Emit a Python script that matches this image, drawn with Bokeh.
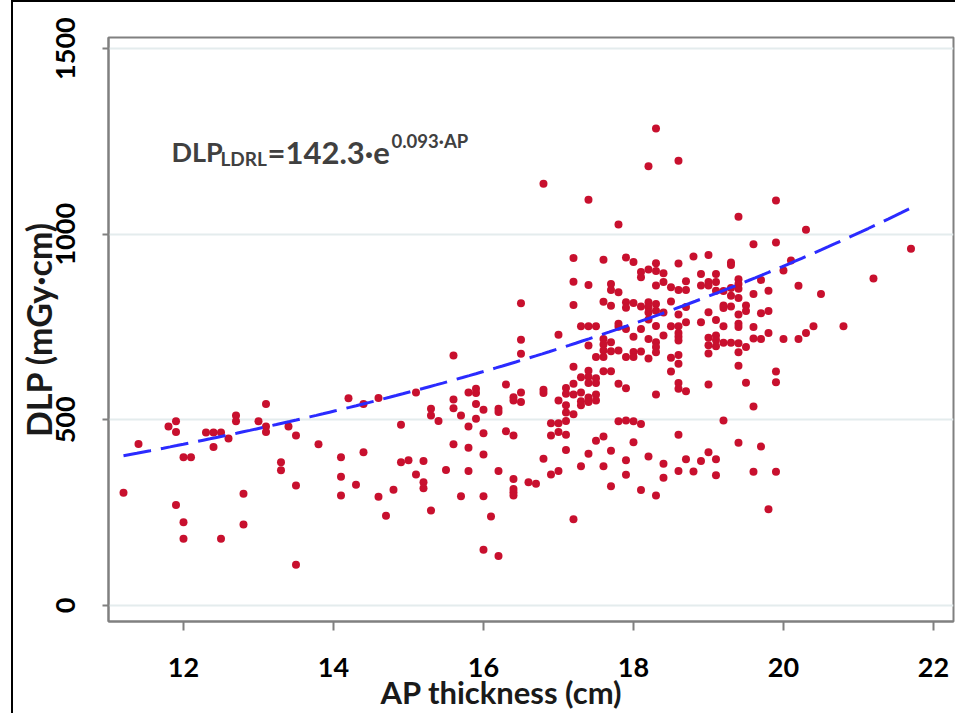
import numpy as np
from bokeh.plotting import figure
from bokeh.models import FixedTicker, Label, Range1d, Title
from bokeh.embed import file_html
from bokeh.resources import INLINE

# ---- data ----
ap_cm = [
    11.2,
    11.4,
    11.8,
    11.9, 11.9, 11.9,
    12.0, 12.0, 12.0,
    12.1,
    12.3,
    12.4, 12.4,
    12.5, 12.5,
    12.6,
    12.7, 12.7,
    12.8, 12.8,
    13.0,
    13.1, 13.1, 13.1,
    13.3, 13.3,
    13.4,
    13.5, 13.5, 13.5,
    13.8,
    14.1, 14.1, 14.1,
    14.2,
    14.3,
    14.4, 14.4,
    14.6, 14.6,
    14.7,
    14.8,
    14.9, 14.9,
    15.0,
    15.1, 15.1,
    15.2, 15.2, 15.2,
    15.3, 15.3, 15.3,
    15.4,
    15.5,
    15.6, 15.6, 15.6, 15.6,
    15.7, 15.7,
    15.8, 15.8, 15.8, 15.8,
    15.9, 15.9, 15.9, 15.9,
    16.0, 16.0, 16.0, 16.0, 16.0,
    16.1,
    16.2, 16.2, 16.2, 16.2,
    16.3, 16.3,
    16.4, 16.4, 16.4, 16.4, 16.4, 16.4, 16.4,
    16.5, 16.5, 16.5, 16.5, 16.5,
    16.6,
    16.7,
    16.8, 16.8, 16.8, 16.8,
    16.9, 16.9, 16.9,
    17.0, 17.0, 17.0, 17.0, 17.0,
    17.1, 17.1, 17.1, 17.1, 17.1, 17.1, 17.1,
    17.2, 17.2, 17.2, 17.2, 17.2, 17.2, 17.2, 17.2,
    17.3, 17.3, 17.3, 17.3, 17.3, 17.3,
    17.4, 17.4, 17.4, 17.4, 17.4, 17.4, 17.4, 17.4, 17.4, 17.4,
    17.5, 17.5, 17.5, 17.5, 17.5, 17.5, 17.5,
    17.6, 17.6, 17.6, 17.6, 17.6, 17.6, 17.6, 17.6, 17.6,
    17.7, 17.7, 17.7, 17.7, 17.7, 17.7, 17.7, 17.7,
    17.8, 17.8, 17.8, 17.8, 17.8, 17.8, 17.8,
    17.9, 17.9, 17.9, 17.9, 17.9, 17.9, 17.9, 17.9, 17.9,
    18.0, 18.0, 18.0, 18.0, 18.0, 18.0, 18.0,
    18.1, 18.1, 18.1, 18.1, 18.1, 18.1, 18.1,
    18.2, 18.2, 18.2, 18.2, 18.2, 18.2, 18.2, 18.2, 18.2,
    18.3, 18.3, 18.3, 18.3, 18.3, 18.3, 18.3, 18.3, 18.3, 18.3, 18.3, 18.3,
    18.4, 18.4, 18.4, 18.4, 18.4, 18.4,
    18.5, 18.5, 18.5, 18.5, 18.5,
    18.6, 18.6, 18.6, 18.6, 18.6, 18.6, 18.6, 18.6, 18.6, 18.6, 18.6, 18.6, 18.6, 18.6,
    18.7, 18.7, 18.7, 18.7, 18.7, 18.7,
    18.8, 18.8,
    18.9, 18.9, 18.9, 18.9,
    19.0, 19.0, 19.0, 19.0, 19.0, 19.0, 19.0, 19.0, 19.0,
    19.1, 19.1, 19.1, 19.1, 19.1, 19.1, 19.1, 19.1, 19.1,
    19.2, 19.2, 19.2, 19.2, 19.2, 19.2,
    19.3, 19.3, 19.3, 19.3, 19.3, 19.3,
    19.4, 19.4, 19.4, 19.4, 19.4, 19.4, 19.4, 19.4, 19.4, 19.4, 19.4, 19.4,
    19.5, 19.5, 19.5, 19.5,
    19.6, 19.6, 19.6, 19.6, 19.6, 19.6,
    19.7, 19.7, 19.7, 19.7,
    19.8, 19.8, 19.8, 19.8,
    19.9, 19.9, 19.9, 19.9, 19.9,
    20.0, 20.0,
    20.1,
    20.2, 20.2,
    20.3, 20.3,
    20.4,
    20.5,
    20.8,
    21.2,
    21.7,
]

dlp_mgycm = [
    304,
    435,
    482,
    496, 467, 271,
    399, 224, 180,
    399,
    466,
    466, 427,
    466, 180,
    450,
    512, 496,
    301, 218,
    496,
    543, 482, 467,
    386, 364,
    482,
    458, 323, 110,
    434,
    399, 347, 296,
    558,
    325,
    543, 413,
    559, 293,
    242,
    312,
    487, 386,
    391,
    574, 353,
    389, 332, 316,
    530, 512, 256,
    497,
    365,
    673, 555, 531, 434,
    512, 294,
    574, 482, 425, 362,
    584, 572, 543, 503,
    527, 464, 407, 294, 150,
    240,
    530, 521, 362, 133,
    595, 469,
    561, 552, 458, 341, 314, 305, 296,
    814, 716, 678, 574, 548,
    332,
    328,
    1136, 581, 572, 395,
    491, 458, 353,
    729, 552, 491, 467, 362,
    586, 570, 539, 520, 497, 460, 419,
    936, 872, 809, 643, 597, 568, 515, 232,
    752, 615, 574, 550, 539, 375,
    1093, 863, 752, 700, 632, 616, 599, 560, 548, 409,
    752, 669, 612, 599, 568, 552, 444,
    931, 818, 718, 703, 687, 669, 631, 455, 375,
    866, 850, 807, 709, 685, 631, 417, 321,
    1026, 844, 759, 751, 687, 597, 496,
    937, 817, 802, 745, 669, 585, 498, 391, 352,
    925, 815, 724, 683, 669, 496, 440,
    898, 884, 805, 745, 684, 489, 311,
    1183, 905, 817, 803, 789, 770, 718, 665, 401,
    1285, 922, 901, 862, 812, 794, 753, 709, 696, 682, 568, 296,
    895, 871, 789, 727, 382, 344,
    857, 819, 752, 667, 630,
    1198, 921, 850, 784, 752, 734, 724, 714, 675, 651, 599, 584, 460, 362,
    873, 850, 804, 763, 577, 394,
    940, 361,
    893, 862, 763, 389,
    944, 871, 862, 790, 721, 701, 679, 595, 413,
    893, 871, 848, 769, 727, 715, 698, 394, 351,
    847, 808, 801, 752, 708, 498,
    924, 917, 855, 834, 805, 708,
    1047, 879, 866, 853, 828, 784, 759, 750, 706, 682, 646, 438,
    808, 793, 696, 600,
    973, 839, 750, 719, 536, 360,
    877, 787, 718, 428,
    848, 793, 734, 259,
    1091, 978, 630, 601, 360,
    902, 718,
    929,
    861, 718,
    1012, 734,
    752,
    839,
    752,
    881,
    961,
]
assert len(ap_cm) == len(dlp_mgycm)

# fitted curve printed on the chart: DLP = 142.3 * e^(0.093*AP)
fit_coef = 142.3
fit_rate = 0.093
fit_ap_range = [11.2, 21.75]

x_ticks = [12, 14, 16, 18, 20, 22]
y_ticks = [0, 500, 1000, 1500]

x_title = "AP thickness (cm)"
y_title = "DLP (mGy·cm)"
formula_parts = ["DLP", "LDRL", "=142.3·e", "0.093·AP"]

# ---- layout geometry ----
FRAME_W, FRAME_H = 845, 584
X0, X1 = 11.0, 22.267
Y0, Y1 = -43.1, 1529.8
FONT = "Lato"

p = figure(frame_width=FRAME_W, frame_height=FRAME_H,
           x_range=Range1d(X0, X1), y_range=Range1d(Y0, Y1),
           output_backend="svg", toolbar_location=None,
           min_border_left=95, min_border_right=2,
           min_border_top=35, min_border_bottom=92,
           background_fill_color="white", border_fill_color="white")
p.styles = {"border-left": "2px solid #000", "border-top": "2px solid #000",
            "margin-left": "11px", "margin-top": "0px"}

p.outline_line_color = "#808080"
p.outline_line_width = 2

# helpers: pixel offsets from the frame's top-left corner -> data coords
def fx(px_from_frame_left):
    return X0 + px_from_frame_left * (X1 - X0) / FRAME_W

def fy(px_from_frame_top):
    return Y1 - px_from_frame_top * (Y1 - Y0) / FRAME_H

# grid
p.xgrid.visible = False
p.ygrid.ticker = FixedTicker(ticks=y_ticks)
p.ygrid.grid_line_color = "#e4eced"
p.ygrid.grid_line_width = 2

# axes
for ax in (p.xaxis[0], p.yaxis[0]):
    ax.axis_line_color = "#808080"
    ax.axis_line_width = 2
    ax.major_tick_line_color = "#808080"
    ax.major_tick_line_width = 2
    ax.minor_tick_line_color = None
    ax.major_tick_in = 0
    ax.major_label_text_font = FONT
    ax.major_label_text_font_style = "bold"
    ax.major_label_text_font_size = "27px"
    ax.major_label_text_color = "#000000"

p.xaxis.ticker = FixedTicker(ticks=x_ticks)
p.xaxis.major_tick_out = 9
p.xaxis.major_label_standoff = 27

p.yaxis.ticker = FixedTicker(ticks=y_ticks)
p.yaxis.major_tick_out = 6
p.yaxis.major_label_standoff = 27
p.yaxis.major_label_orientation = "vertical"
p.yaxis.axis_label = y_title
p.yaxis.axis_label_text_font = FONT
p.yaxis.axis_label_text_font_style = "bold"
p.yaxis.axis_label_text_font_size = "34px"
p.yaxis.axis_label_text_color = "#1a1a1a"
p.yaxis.axis_label_standoff = -5

# x axis title, as a title under the axis
p.add_layout(Title(text=x_title, align="left", offset=272, standoff=-18,
                   text_font=FONT, text_font_style="bold",
                   text_font_size="31px", text_color="#1a1a1a"), "below")

# data
p.scatter(ap_cm, dlp_mgycm, size=8, fill_color="#c8102e", line_color=None)

fit_x = np.linspace(fit_ap_range[0], fit_ap_range[1], 120)
fit_y = fit_coef * np.exp(fit_rate * fit_x)
p.line(fit_x, fit_y, line_color="#2b2bff", line_width=3, line_dash="28 10")

# formula annotation
f_color = "#404040"
pieces = [
    (formula_parts[0], 63, 114, "27px"),
    (formula_parts[1], 112, 121, "19px"),
    (formula_parts[2], 159, 114, "31px"),
    (formula_parts[3], 283, 103, "18.5px"),
]
for txt, dx, dy, fs in pieces:
    p.add_layout(Label(x=fx(dx), y=fy(dy), text=txt, text_align="left",
                       text_baseline="alphabetic", text_font=FONT,
                       text_font_style="bold", text_font_size=fs,
                       text_color=f_color))

open("out.html", "w").write(file_html(p, INLINE))
